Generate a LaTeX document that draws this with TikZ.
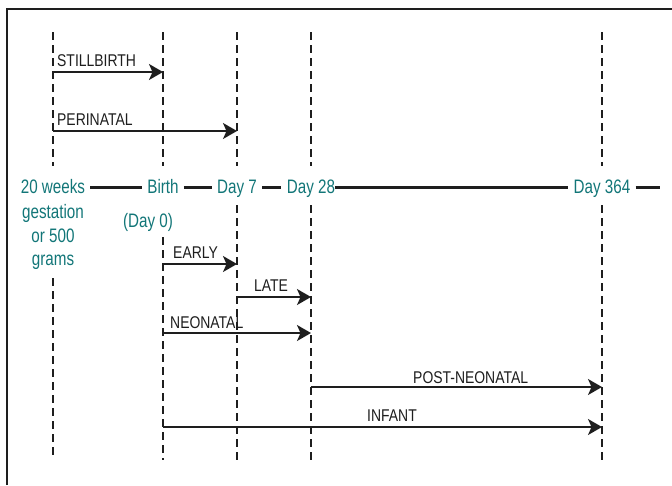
\documentclass[tikz,border=0pt]{standalone}
\usepackage{fontspec}
\setmainfont[FakeStretch=0.82]{Liberation Sans}
\newfontfamily\tealfont[FakeStretch=0.78]{Liberation Sans}
\usetikzlibrary{arrows.meta}
\definecolor{tealtxt}{RGB}{18,118,120}
\definecolor{ink}{RGB}{30,30,30}
\begin{document}
\begin{tikzpicture}[x=1pt,y=-1pt,
  frameline/.style={draw=ink,line width=2pt},
  guide/.style={draw=ink,line width=1.8pt,dash pattern=on 8pt off 5pt},
  timeline/.style={draw=ink,line width=3pt},
  period/.style={draw=ink,line width=1.6pt,-{Stealth[length=14pt,width=16pt,inset=3.5pt]}},
  lbl/.style={inner sep=0pt,anchor=base west,text=ink,font=\fontsize{17}{19}\selectfont},
  tickname/.style={inner ysep=0pt,inner xsep=5pt,anchor=base,text=tealtxt,font=\tealfont\fontsize{19.5}{24}\selectfont},
]
\useasboundingbox (0,0) rectangle (672,485);
% frame
\coordinate (fbl) at (7,485);
\coordinate (ftl) at (7,9);
\coordinate (ftr) at (672,9);
\draw[frameline] (fbl) -- (ftl) -- (ftr);

% timeline labels
\node[tickname] (w20) at (53,193) {20 weeks};
\node[tickname] (w20b) at (53,218) {gestation};
\node[tickname] (w20c) at (53,242) {or 500};
\node[tickname] (w20d) at (53,265) {grams};
\node[tickname] (birth) at (163,193) {Birth};
\node[tickname] (day0) at (148,227) {(Day 0)};
\node[tickname] (d7) at (237,193) {Day 7};
\node[tickname,inner xsep=0pt] (d28) at (311,193) {Day 28};
\node[tickname] (d364) at (602,193) {Day 364};
\coordinate (tl) at (0,187);
\coordinate (tlend) at (660,187);

% guides
\coordinate (a1) at (53,32);  \coordinate (a2) at (53,166);
\coordinate (a3) at (53,278); \coordinate (a4) at (53,458);
\coordinate (b1) at (163,32); \coordinate (b2) at (163,166);
\coordinate (b3) at (163,237); \coordinate (b4) at (163,460);
\coordinate (c1) at (237,32); \coordinate (c2) at (237,166);
\coordinate (c3) at (237,205); \coordinate (c4) at (237,462);
\coordinate (e1) at (311,32); \coordinate (e2) at (311,166);
\coordinate (e3) at (311,205); \coordinate (e4) at (311,462);
\coordinate (f1) at (602,32); \coordinate (f2) at (602,166);
\coordinate (f3) at (602,205); \coordinate (f4) at (602,462);
\foreach \v in {a,b,c,e,f}{
  \draw[guide] (\v1) -- (\v2);
  \draw[guide] (\v3) -- (\v4);
}

% timeline segments
\draw[timeline] (w20.east |- tl) -- (birth.west |- tl);
\draw[timeline] (birth.east |- tl) -- (d7.west |- tl);
\draw[timeline] (d7.east |- tl) -- ([xshift=-6pt]d28.west |- tl);
\draw[timeline] (d28.east |- tl) -- (d364.west |- tl);
\draw[timeline] (d364.east |- tl) -- (tlend);

% periods
\coordinate (s1) at (53,72);  \coordinate (s2) at (163,72);
\coordinate (p1) at (53,131); \coordinate (p2) at (237,131);
\coordinate (r1) at (163,264); \coordinate (r2) at (237,264);
\coordinate (l1) at (237,297); \coordinate (l2) at (311,297);
\coordinate (n1) at (163,333); \coordinate (n2) at (311,333);
\coordinate (q1) at (311,387); \coordinate (q2) at (602,387);
\coordinate (i1) at (163,427); \coordinate (i2) at (602,427);
\draw[period] (s1) -- (s2);
\draw[period] (p1) -- (p2);
\draw[period] (r1) -- (r2);
\draw[period] (l1) -- (l2);
\draw[period] (n1) -- (n2);
\draw[period] (q1) -- (q2);
\draw[period] (i1) -- (i2);

\node[lbl] (tsb) at (57,66) {STILLBIRTH};
\node[lbl] (tpe) at (57,125) {PERINATAL};
\node[lbl] (tea) at (173,258) {EARLY};
\node[lbl] (tla) at (254,291) {LATE};
\node[lbl] (tne) at (170,328) {NEONATAL};
\node[lbl] (tpn) at (413,383) {POST-NEONATAL};
\node[lbl] (tin) at (367,421) {INFANT};
\end{tikzpicture}
\end{document}
